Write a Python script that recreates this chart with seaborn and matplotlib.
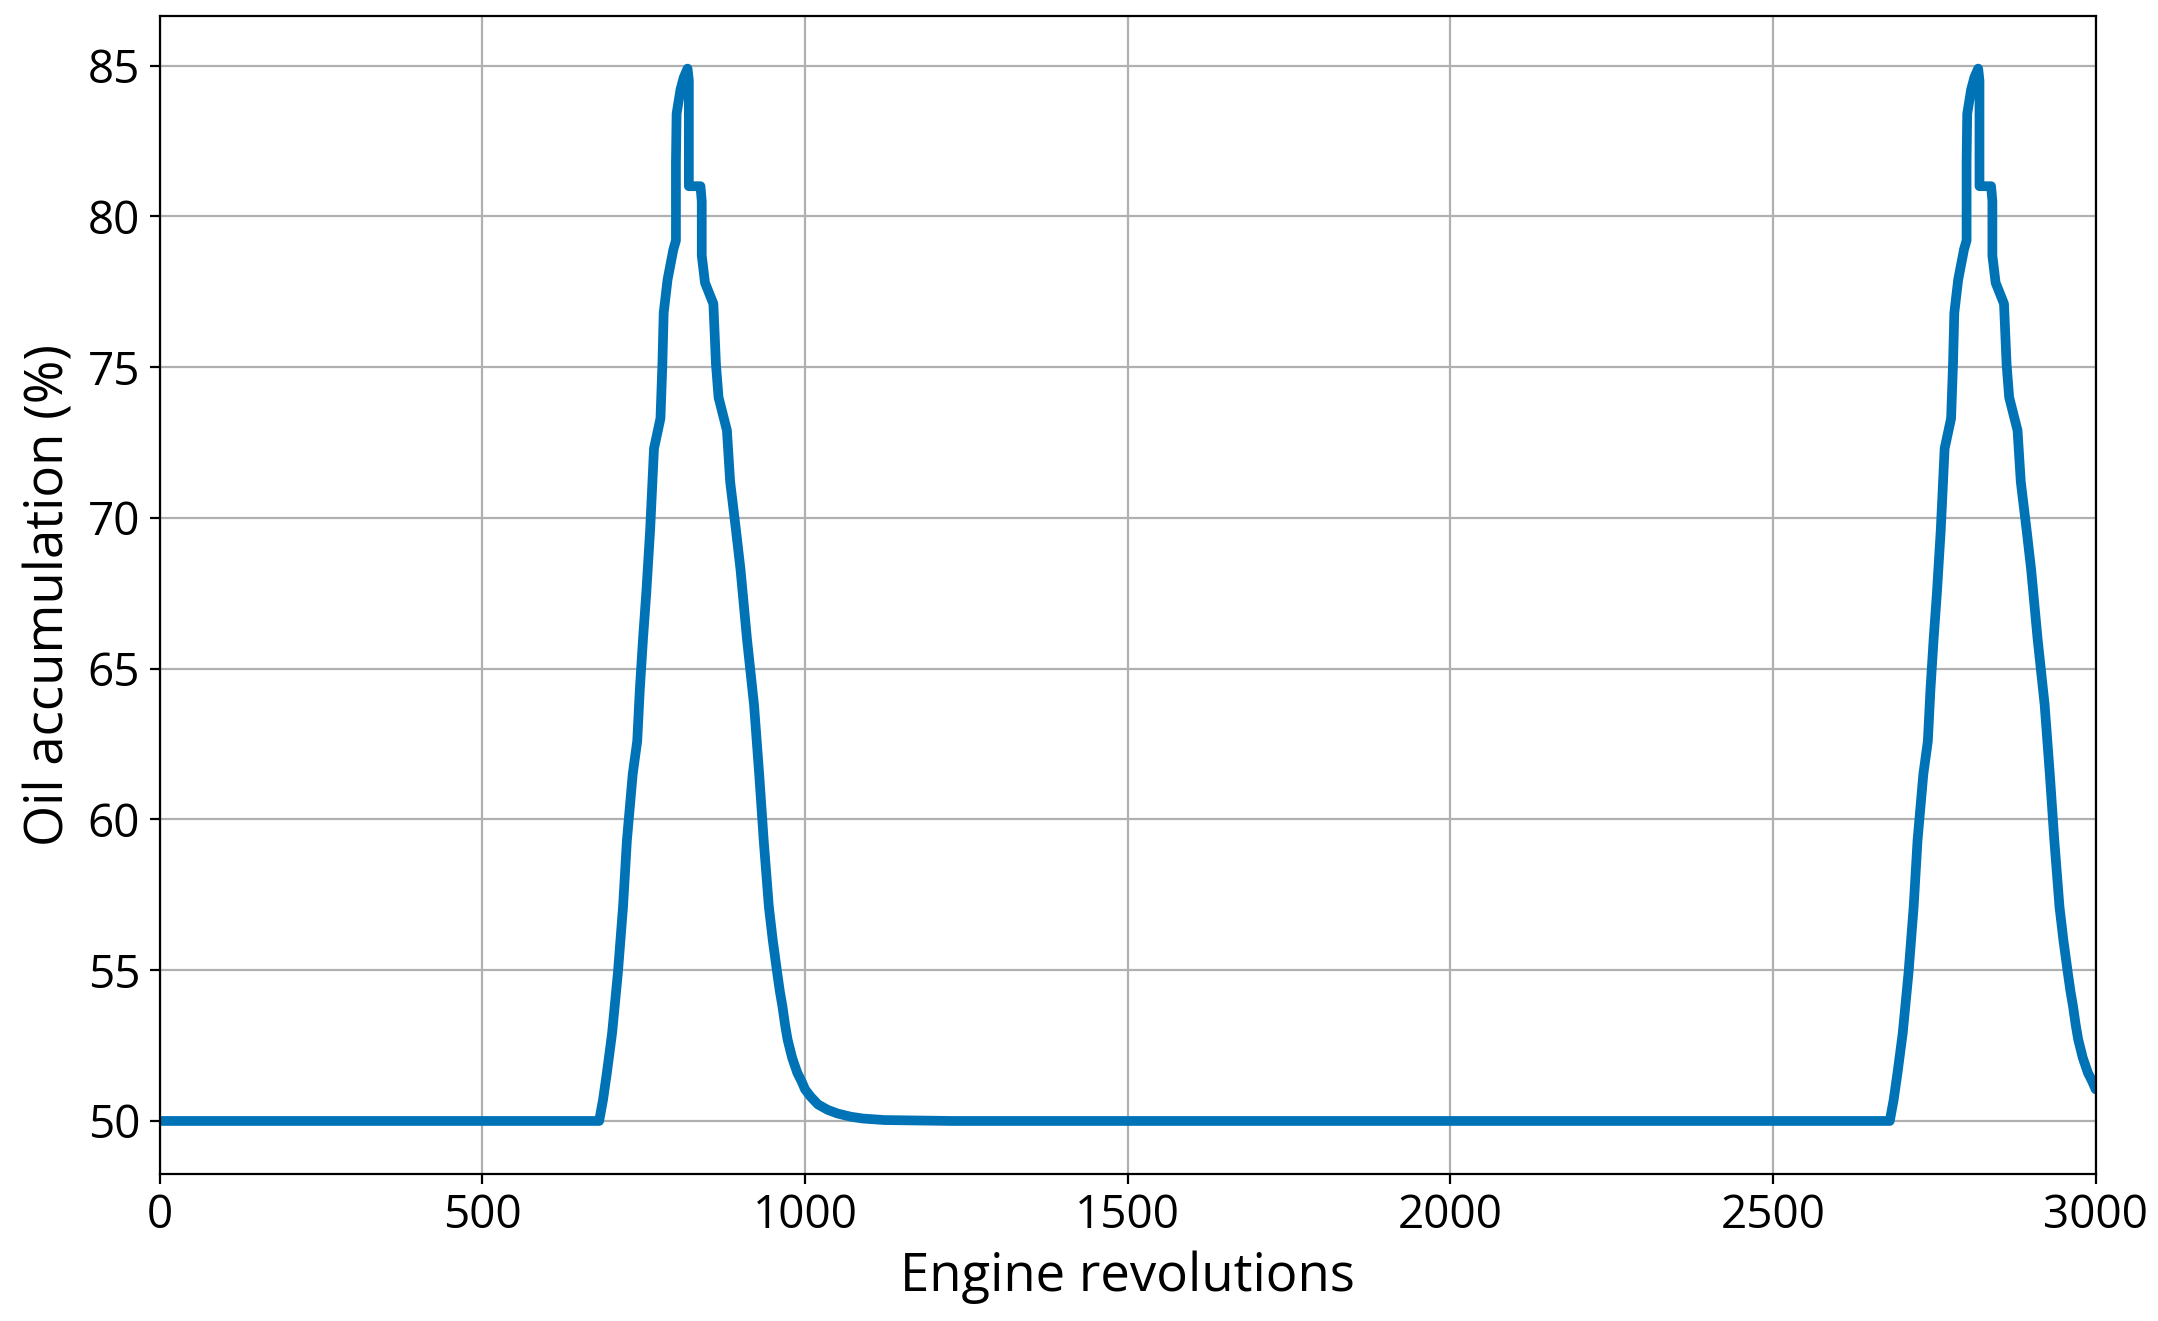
import numpy as np
import pandas as pd
import seaborn as sns
import matplotlib.pyplot as plt

# one oil-accumulation cycle (revolutions, %)
cycle1_rev = [0, 681, 687, 693, 701, 710, 718, 724, 733, 740, 744, 749,
              754, 760, 766, 776, 779, 781, 787, 796, 800, 800, 801, 807,
              812, 818, 820, 820, 838, 840, 840, 845, 858, 862, 866, 879,
              884, 893, 900, 910, 921, 929, 936, 944, 950, 957, 961, 965,
              969, 973, 980, 988, 995, 1000, 1009, 1020, 1035, 1050, 1071,
              1090, 1123, 1226]
cycle1_oil = [50.0, 50.0, 50.7, 51.6, 52.9, 54.9, 57.1, 59.3, 61.5, 62.6,
              64.3, 66.0, 67.5, 69.6, 72.3, 73.3, 75.1, 76.8, 77.9, 78.9,
              79.2, 81.8, 83.4, 84.2, 84.6, 84.9, 84.5, 81.0, 81.0, 80.5,
              78.7, 77.8, 77.1, 75.1, 74.0, 72.9, 71.2, 69.6, 68.3, 66.0,
              63.8, 61.5, 59.3, 57.1, 56.0, 54.9, 54.3, 53.8, 53.2, 52.7,
              52.1, 51.6, 51.3, 51.05, 50.8, 50.55, 50.37, 50.25, 50.14,
              50.08, 50.03, 50.0]

# second cycle, cut off at 3000 revolutions
cycle2_rev = [2681, 2687, 2693, 2701, 2710, 2718, 2724, 2733, 2740, 2744,
              2749, 2754, 2760, 2766, 2776, 2779, 2781, 2787, 2796, 2800,
              2800, 2801, 2807, 2812, 2818, 2820, 2820, 2838, 2840, 2840,
              2845, 2858, 2862, 2866, 2879, 2884, 2893, 2900, 2910, 2921,
              2929, 2936, 2944, 2950, 2957, 2961, 2965, 2969, 2973, 2980,
              2988, 2995, 3000]
cycle2_oil = [50.0, 50.7, 51.6, 52.9, 54.9, 57.1, 59.3, 61.5, 62.6, 64.3,
              66.0, 67.5, 69.6, 72.3, 73.3, 75.1, 76.8, 77.9, 78.9, 79.2,
              81.8, 83.4, 84.2, 84.6, 84.9, 84.5, 81.0, 81.0, 80.5, 78.7,
              77.8, 77.1, 75.1, 74.0, 72.9, 71.2, 69.6, 68.3, 66.0, 63.8,
              61.5, 59.3, 57.1, 56.0, 54.9, 54.3, 53.8, 53.2, 52.7, 52.1,
              51.6, 51.3, 51.05]

df = pd.DataFrame({"rev": cycle1_rev + cycle2_rev,
                   "oil": cycle1_oil + cycle2_oil})

sns.set_style("ticks", {"text.color": "black", "axes.labelcolor": "black",
                        "xtick.color": "black", "ytick.color": "black"})
plt.rcParams["font.family"] = ["Open Sans", "DejaVu Sans"]

fig = plt.figure(figsize=(10.79, 6.605), dpi=200)
ax = fig.add_axes([0.074, 0.1116, 0.8971, 0.8763])

sns.lineplot(data=df, x="rev", y="oil", sort=False, estimator=None,
             color="#0073b7", linewidth=3.5, ax=ax)

ax.set_xlim(0, 3000)
ax.set_xticks([0, 500, 1000, 1500, 2000, 2500, 3000])
ax.set_yticks([50, 55, 60, 65, 70, 75, 80, 85])
ax.grid(True, color="#b0b0b0", linewidth=0.8)
ax.set_axisbelow(True)
for s in ax.spines.values():
    s.set_color("black")
    s.set_linewidth(0.8)
ax.tick_params(labelsize=16.5, width=0.8, length=3.5, color="black",
               labelcolor="black")
ax.set_xlabel("Engine revolutions", fontsize=19, color="black")
ax.set_ylabel("Oil accumulation (%)", fontsize=19, color="black")

fig.savefig("out.png", dpi=200, facecolor="white")
